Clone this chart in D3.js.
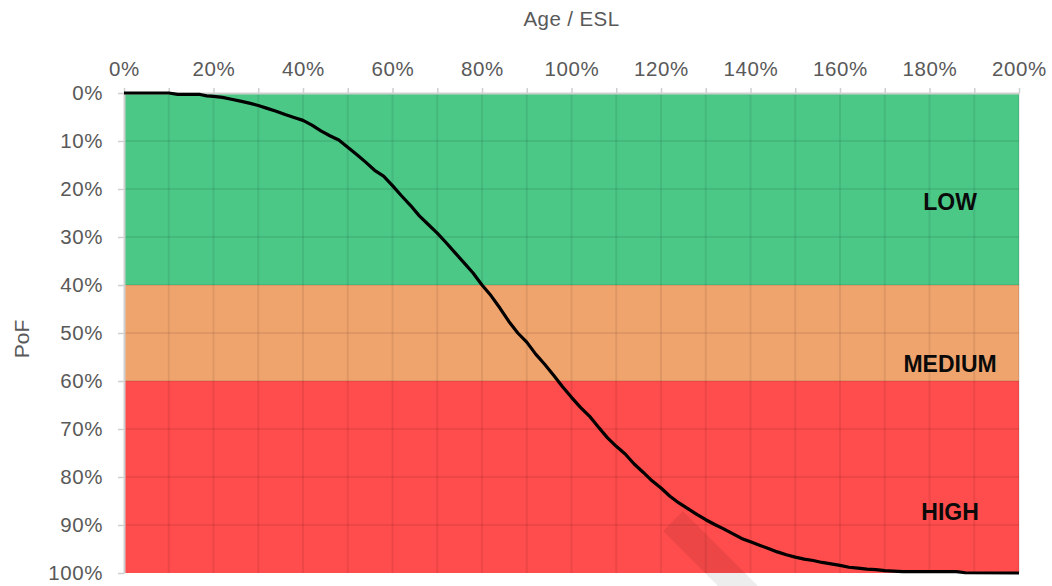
<!DOCTYPE html>
<html>
<head>
<meta charset="utf-8">
<script src="https://cdn.jsdelivr.net/npm/d3@7"></script>
<style>
  html, body { margin: 0; padding: 0; background: #fff; }
  svg { display: block; }
  text { font-family: "Liberation Sans", Arial, sans-serif; }
</style>
</head>
<body>
<svg id="chart" width="1052" height="586"></svg>
<script>
// ---- data (percent) ----
const ageESL = [0,5,10,12,15,17,18.5,20,22,24,26,28,30,32,34,36,38,40,42,44,46,48,50,52,54,56,58,60,62,64,66,68,70,72,74,76,78,80,82,84,86,88,90,92,94,96,98,100,102,104,106,108,110,112,114,116,118,120,122,124,126,128,130,132,134,136,138,140,142,144,146,148,150,152,154,156,158,160,162,164,166,168,170,172,174,180,186,188,200];
const pof    = [0,0,0,0.3,0.3,0.3,0.6,0.7,0.9,1.3,1.7,2.1,2.6,3.2,3.8,4.5,5.1,5.7,6.7,7.9,8.9,9.8,11.3,12.8,14.4,16.1,17.3,19.3,21.4,23.4,25.6,27.4,29.2,31.2,33.3,35.4,37.5,40,42.2,44.8,47.6,50.0,51.9,54.4,56.5,58.8,61.2,63.4,65.5,67.3,69.6,71.8,73.6,75.2,77.3,79.0,80.8,82.3,84.0,85.4,86.6,87.8,88.9,89.9,90.8,91.8,92.8,93.5,94.2,94.9,95.6,96.2,96.7,97.1,97.4,97.8,98.1,98.4,98.8,99.0,99.2,99.3,99.5,99.6,99.7,99.7,99.7,99.95,100];

const bandNames  = ["LOW", "MEDIUM", "HIGH"];
const bandFrom   = [0, 40, 60];
const bandTo     = [40, 60, 100];
const bandColors = ["#4bc886", "#f0a46d", "#ff4c4c"];
const bandLabelY = [22.7, 56.5, 87.3];
const bandLabelX = 184.6;

const xTickLabels = [0,20,40,60,80,100,120,140,160,180,200];
const xGridValues = d3.range(0, 201, 10);
const yTickLabels = [0,10,20,30,40,50,60,70,80,90,100];

// ---- layout ----
const svg = d3.select("#chart");
const mLeft = 124, mRight = 1019, mTop = 93, mBottom = 573;
const x = d3.scaleLinear().domain([0, 200]).range([mLeft, mRight]);
const y = d3.scaleLinear().domain([0, 100]).range([mTop, mBottom]);

// bands
svg.append("g").selectAll("rect").data(bandNames).join("rect")
  .attr("x", x(0)).attr("width", x(200) - x(0))
  .attr("y", (d, i) => y(bandFrom[i]))
  .attr("height", (d, i) => y(bandTo[i]) - y(bandFrom[i]))
  .attr("fill", (d, i) => bandColors[i]);

// gridlines
const grid = svg.append("g").attr("stroke", "rgba(0,0,0,0.075)").attr("stroke-width", 2);
grid.selectAll("line.v").data(xGridValues.slice(1)).join("line").attr("class", "v")
  .attr("x1", d => x(d)).attr("x2", d => x(d)).attr("y1", mTop).attr("y2", mBottom);
grid.selectAll("line.h").data(yTickLabels.slice(1, -1)).join("line").attr("class", "h")
  .attr("y1", d => y(d)).attr("y2", d => y(d)).attr("x1", mLeft).attr("x2", mRight);

// faint watermark stroke
svg.append("polygon")
  .attr("points", [[683, 511], [663, 531], [718, 586], [758, 586]].map(p => p.join(",")).join(" "))
  .attr("fill", "rgba(0,0,0,0.07)");

// top axis
const xAxis = d3.axisTop(x).tickValues(xGridValues).tickSize(5).tickSizeOuter(0)
  .tickFormat(d => xTickLabels.includes(d) ? d + "%" : "");
const gx = svg.append("g").attr("transform", `translate(0,${mTop})`).call(xAxis);
gx.select(".domain").attr("stroke", "#cfcfcf").attr("stroke-width", 2);
gx.selectAll(".tick line").attr("stroke", "#cfcfcf").attr("stroke-width", 1.5);
gx.selectAll(".tick text").attr("fill", "#595959").attr("font-size", 20.5)
  .attr("font-family", "Liberation Sans, Arial, sans-serif").attr("dy", "-0.45em")
  .attr("letter-spacing", "0.6px");

// left axis
const yAxis = d3.axisLeft(y).tickValues(yTickLabels).tickSize(6).tickSizeOuter(0)
  .tickFormat(d => d + "%");
const gy = svg.append("g").attr("transform", `translate(${mLeft},0)`).call(yAxis);
gy.select(".domain").attr("stroke", "#cfcfcf").attr("stroke-width", 2);
gy.selectAll(".tick line").attr("stroke", "#cfcfcf").attr("stroke-width", 1.5);
gy.selectAll(".tick text").attr("fill", "#595959").attr("font-size", 20.5)
  .attr("font-family", "Liberation Sans, Arial, sans-serif").attr("x", -21)
  .attr("letter-spacing", "0.6px");

// axis titles
svg.append("text").attr("x", (mLeft + mRight) / 2).attr("y", 26)
  .attr("text-anchor", "middle").attr("fill", "#595959").attr("font-size", 20.5)
  .attr("letter-spacing", "0.4px").text("Age / ESL");
svg.append("text").attr("transform", `translate(29,${(mTop + mBottom) / 2 + 6}) rotate(-90)`)
  .attr("text-anchor", "middle").attr("fill", "#595959").attr("font-size", 21)
  .text("PoF");

// curve
const line = d3.line().x((d, i) => x(ageESL[i])).y(d => y(d)).curve(d3.curveLinear);
svg.append("path").datum(pof).attr("d", line)
  .attr("fill", "none").attr("stroke", "#000").attr("stroke-width", 3.2)
  .attr("stroke-linejoin", "round");

// band labels
svg.append("g").selectAll("text").data(bandNames).join("text")
  .attr("x", x(bandLabelX)).attr("y", (d, i) => y(bandLabelY[i]))
  .attr("dy", "0.36em").attr("text-anchor", "middle")
  .attr("font-weight", "bold").attr("font-size", 23).attr("fill", "#0a0a0a")
  .text(d => d);
</script>
</body>
</html>
